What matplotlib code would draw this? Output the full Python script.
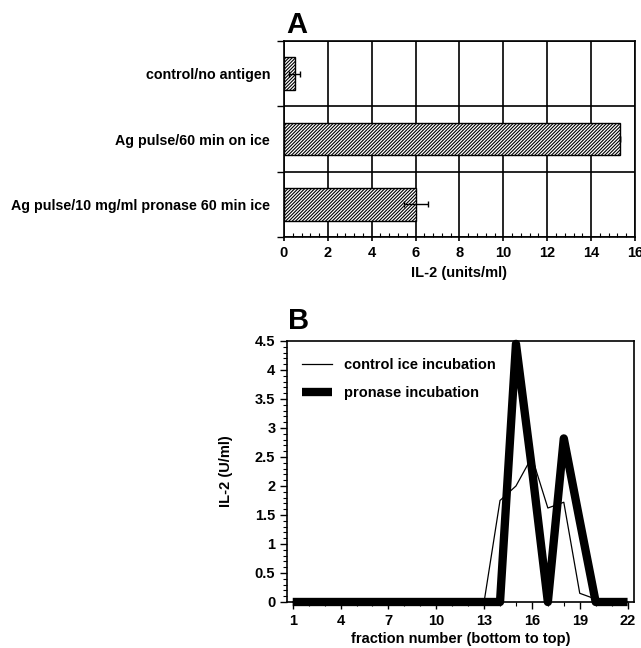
import numpy as np
import matplotlib
matplotlib.use('Agg')
import matplotlib.pyplot as plt
from matplotlib.ticker import MultipleLocator, FormatStrFormatter

plt.rcParams['font.family'] = ['Liberation Sans', 'DejaVu Sans']
plt.rcParams['font.weight'] = 'bold'
plt.rcParams['axes.labelweight'] = 'bold'
plt.rcParams['hatch.linewidth'] = 0.8

# panel A data
conditions = ['control/no antigen', 'Ag pulse/60 min on ice',
              'Ag pulse/10 mg/ml pronase 60 min ice']
il2_units = [0.5, 15.3, 6.0]
il2_err = [0.25, 0.0, 0.55]

# panel B data
fractions = list(range(1, 23))
control_ice = [0, 0, 0, 0, 0, 0, 0, 0, 0, 0, 0, 0, 0,
               1.75, 2.0, 2.5, 1.62, 1.72, 0.15, 0.05, 0, 0]
pronase = [0, 0, 0, 0, 0, 0, 0, 0, 0, 0, 0, 0, 0,
           0, 4.45, 2.3, 0, 2.82, 1.4, 0, 0, 0]

fig = plt.figure(figsize=(6.41, 6.48), dpi=100)

# ---- panel A ----
axA = fig.add_axes([0.443, 0.634, 0.5476, 0.3027])
ypos = np.arange(len(conditions))
axA.barh(ypos, il2_units, height=0.5, color='white', edgecolor='black',
         hatch='//////////', linewidth=1.0, zorder=3)
axA.errorbar(il2_units, ypos, xerr=il2_err, fmt='none', ecolor='black',
             elinewidth=1.0, capsize=2, capthick=1.0, zorder=4)
axA.set_xlim(0, 16)
axA.set_ylim(2.5, -0.5)
axA.set_yticks(ypos)
axA.set_yticklabels(conditions, fontsize=10.3)
axA.set_yticks([-0.5, 0.5, 1.5, 2.5], minor=True)
axA.tick_params(axis='y', which='major', length=0, pad=10)
axA.tick_params(axis='y', which='minor', length=5, width=1.0, direction='out')
axA.xaxis.set_major_locator(MultipleLocator(2))
axA.xaxis.set_minor_locator(MultipleLocator(0.4))
axA.tick_params(axis='x', which='major', length=3, width=1.2, labelsize=10.5, pad=3)
axA.tick_params(axis='x', which='minor', length=3, width=0.8, direction='in')
axA.grid(True, axis='x', which='major', color='black', linewidth=1.2)
axA.grid(True, axis='y', which='minor', color='black', linewidth=1.2)
axA.set_axisbelow(True)
for s in axA.spines.values():
    s.set_linewidth(1.2)
axA.set_xlabel('IL-2 (units/ml)', fontsize=10.5, labelpad=5)
fig.text(0.447, 0.962, 'A', fontsize=21, fontweight='heavy', va='center', ha='left')

# ---- panel B ----
axB = fig.add_axes([0.448, 0.071, 0.541, 0.4028])
axB.plot(fractions, control_ice, color='black', linewidth=0.9,
         label='control ice incubation', zorder=3, clip_on=False)
axB.plot(fractions, pronase, color='black', linewidth=6,
         solid_joinstyle='round', solid_capstyle='butt',
         label='pronase incubation', zorder=4, clip_on=False)
axB.set_xlim(0.65, 22.4)
axB.set_ylim(0, 4.5)
axB.set_xticks(fractions[::3])
axB.xaxis.set_minor_locator(MultipleLocator(1))
axB.yaxis.set_major_locator(MultipleLocator(0.5))
axB.yaxis.set_minor_locator(MultipleLocator(0.1))
axB.yaxis.set_major_formatter(FormatStrFormatter('%g'))
axB.tick_params(axis='both', which='major', length=5, width=1.0,
                direction='out', labelsize=10.5)
axB.tick_params(axis='both', which='minor', length=3, width=0.8, direction='out')
for s in axB.spines.values():
    s.set_linewidth(1.2)
axB.set_xlabel('fraction number (bottom to top)', fontsize=10.5, labelpad=3)
axB.set_ylabel('IL-2 (U/ml)', fontsize=10.5, labelpad=16)
axB.legend(loc='upper left', bbox_to_anchor=(0.0, 0.99), frameon=False,
           fontsize=10.5, handlelength=2.1, handletextpad=0.8,
           labelspacing=0.95, borderaxespad=0.6)
fig.text(0.449, 0.505, 'B', fontsize=21, fontweight='heavy', va='center', ha='left')

fig.savefig('out.png', dpi=100)
